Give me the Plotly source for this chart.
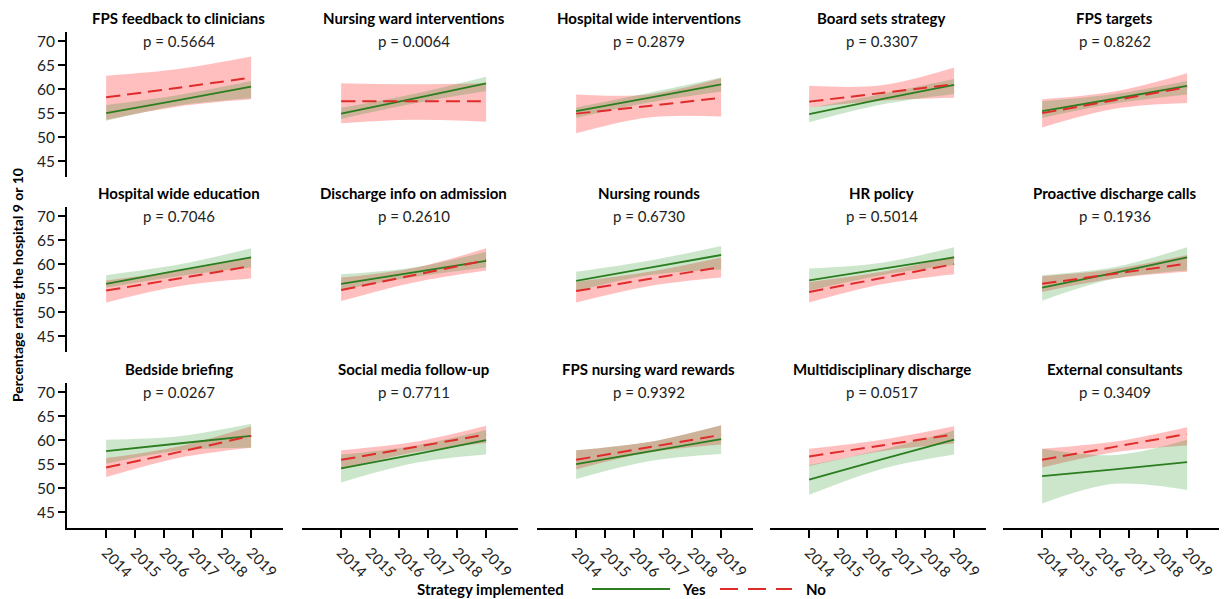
import plotly.graph_objects as go

# ---- data -------------------------------------------------------------
panel_titles = [
    "FPS feedback to clinicians", "Nursing ward interventions", "Hospital wide interventions",
    "Board sets strategy", "FPS targets",
    "Hospital wide education", "Discharge info on admission", "Nursing rounds",
    "HR policy", "Proactive discharge calls",
    "Bedside briefing", "Social media follow-up", "FPS nursing ward rewards",
    "Multidisciplinary discharge", "External consultants",
]
p_values = ["0.5664", "0.0064", "0.2879", "0.3307", "0.8262",
            "0.7046", "0.2610", "0.6730", "0.5014", "0.1936",
            "0.0267", "0.7711", "0.9392", "0.0517", "0.3409"]

# fitted values at the start, middle and end of the period
fit_x = [2014, 2016.5, 2019]

yes_fit = [[55.0, 57.7, 60.5], [54.9, 58.0, 61.2], [55.4, 58.2, 61.0], [54.8, 57.9, 60.9], [55.4, 58.0, 60.7],
           [55.9, 58.7, 61.4], [55.9, 58.3, 60.7], [56.5, 59.2, 61.9], [56.6, 59.0, 61.4], [55.1, 58.2, 61.4],
           [57.7, 59.3, 60.9], [54.1, 57.0, 60.0], [55.0, 57.6, 60.2], [51.8, 56.0, 60.1], [52.5, 53.9, 55.4]]
yes_lo = [[53.4, 56.6, 58.1], [53.8, 57.0, 59.6], [54.0, 57.2, 59.5], [53.1, 56.8, 59.0], [54.0, 57.0, 58.9],
          [55.1, 57.5, 59.3], [54.6, 57.3, 59.3], [54.4, 57.7, 58.9], [54.5, 57.7, 59.8], [52.4, 57.0, 58.7],
          [55.1, 57.8, 58.4], [51.2, 55.2, 57.0], [51.9, 55.6, 57.1], [48.6, 54.0, 57.0], [46.8, 50.9, 49.6]]
yes_hi = [[56.7, 58.8, 61.7], [56.1, 59.0, 62.6], [56.2, 59.2, 62.4], [56.1, 59.0, 62.1], [57.5, 59.0, 61.7],
          [57.7, 59.9, 63.3], [57.9, 59.3, 62.6], [58.4, 60.7, 63.8], [59.1, 60.3, 63.5], [57.7, 59.4, 63.5],
          [60.1, 60.8, 63.4], [57.0, 58.8, 62.1], [57.9, 59.6, 63.1], [54.8, 58.0, 62.0], [58.2, 56.9, 60.1]]

no_fit = [[58.3, 60.3, 62.4], [57.5, 57.5, 57.5], [54.9, 56.5, 58.2], [57.4, 59.2, 61.0], [55.0, 57.7, 60.4],
          [54.5, 57.0, 59.6], [54.6, 57.7, 60.8], [54.4, 56.9, 59.4], [54.2, 57.1, 60.0], [55.9, 58.0, 60.1],
          [54.3, 57.5, 60.9], [55.9, 58.5, 61.2], [55.9, 58.5, 61.1], [56.6, 58.9, 61.2], [55.9, 58.6, 61.3]]
no_lo = [[53.6, 56.4, 57.9], [52.9, 53.6, 53.2], [50.8, 54.1, 54.3], [56.2, 57.6, 58.2], [52.0, 55.9, 57.1],
         [52.0, 55.4, 57.0], [52.3, 56.2, 58.7], [52.0, 55.4, 57.2], [52.0, 55.8, 57.9], [54.2, 57.0, 58.4],
         [52.3, 56.3, 58.4], [53.9, 57.4, 59.4], [53.9, 57.4, 59.1], [54.6, 57.7, 59.3], [54.3, 57.5, 58.9]]
no_hi = [[62.8, 64.2, 66.8], [61.2, 61.0, 61.2], [58.9, 58.9, 62.3], [60.7, 60.8, 64.5], [57.9, 59.5, 63.3],
         [56.6, 58.6, 61.4], [57.2, 59.2, 63.3], [56.3, 58.4, 61.4], [56.3, 58.4, 61.7], [57.5, 59.0, 61.9],
         [56.3, 58.7, 62.9], [57.9, 59.6, 63.0], [57.9, 59.6, 63.1], [58.2, 60.1, 62.9], [58.2, 59.7, 62.7]]

tick_years = [2014, 2015, 2016, 2017, 2018, 2019]
y_ticks = [45, 50, 55, 60, 65, 70]

# ---- styling ------------------------------------------------------------
W, H = 1228, 599
FONT = "Lato"
GREEN = "#2b7d1f"
RED = "#e02b2b"
GREEN_BAND = "rgba(0,128,0,0.20)"
RED_BAND = "rgba(255,0,0,0.25)"

col_left = [67, 302, 537, 770, 1003]
panel_w = 216
row_top = [32, 207, 383]
panel_h = 145
x_range = [2012.65, 2020.1]
y_range = [41.7, 71.9]

fig = go.Figure()
layout = {}

title_y = 1 + 14 / panel_h                                   # title line above the panel
pval_y = (70 - y_range[0]) / (y_range[1] - y_range[0])     # p-value level with the 70 tick

for i, title in enumerate(panel_titles):
    r, c = divmod(i, 5)
    n = i + 1
    xa = "x" if n == 1 else f"x{n}"
    ya = "y" if n == 1 else f"y{n}"
    xkey = "xaxis" if n == 1 else f"xaxis{n}"
    ykey = "yaxis" if n == 1 else f"yaxis{n}"

    x0 = col_left[c] / W
    x1 = (col_left[c] + panel_w) / W
    y1 = 1 - row_top[r] / H
    y0 = 1 - (row_top[r] + panel_h) / H

    bottom = r == 2
    left = c == 0
    layout[xkey] = dict(
        domain=[x0, x1], anchor=ya, range=x_range,
        showgrid=False, zeroline=False,
        showline=bottom, linecolor="black", linewidth=2,
        ticks="outside" if bottom else "", ticklen=8, tickwidth=1.5, tickcolor="black",
        tickvals=tick_years, ticktext=[str(t) for t in tick_years],
        showticklabels=bottom, tickangle=45,
        tickfont=dict(family=FONT, size=15, color="#222"),
    )
    layout[ykey] = dict(
        domain=[y0, y1], anchor=xa, range=y_range,
        showgrid=False, zeroline=False,
        showline=left, linecolor="black", linewidth=2,
        ticks="outside" if left else "", ticklen=7, tickwidth=1.5, tickcolor="black",
        tickvals=y_ticks, showticklabels=left,
        tickfont=dict(family=FONT, size=15.5, color="#222"),
    )

    # confidence bands: "No" underneath, "Yes" on top
    for lo, hi, col in ((no_lo[i], no_hi[i], RED_BAND), (yes_lo[i], yes_hi[i], GREEN_BAND)):
        fig.add_trace(go.Scatter(x=fit_x, y=lo, xaxis=xa, yaxis=ya, mode="lines",
                                 line=dict(width=0, shape="spline"), showlegend=False,
                                 hoverinfo="skip"))
        fig.add_trace(go.Scatter(x=fit_x, y=hi, xaxis=xa, yaxis=ya, mode="lines",
                                 line=dict(width=0, shape="spline"), fill="tonexty",
                                 fillcolor=col, showlegend=False, hoverinfo="skip"))
    fig.add_trace(go.Scatter(x=fit_x, y=yes_fit[i], xaxis=xa, yaxis=ya, mode="lines",
                             line=dict(color=GREEN, width=1.8, shape="spline"),
                             name="Yes", showlegend=False))
    fig.add_trace(go.Scatter(x=fit_x, y=no_fit[i], xaxis=xa, yaxis=ya, mode="lines",
                             line=dict(color=RED, width=2, dash="14px,7px", shape="spline"),
                             name="No", showlegend=False))

    mid = 2016.5
    fig.add_annotation(x=mid, y=title_y, xref=xa, yref=f"{ya} domain", yanchor="middle",
                       text=f"<b>{title}</b>", showarrow=False,
                       font=dict(family=FONT, size=15, color="black"))
    fig.add_annotation(x=mid, y=pval_y, xref=xa, yref=f"{ya} domain", yanchor="middle",
                       text=f"p = {p_values[i]}", showarrow=False,
                       font=dict(family=FONT, size=15, color="#222"))

# shared y-axis title
fig.add_annotation(x=17 / W, y=1 - 285 / H, xref="paper", yref="paper",
                   xanchor="center", yanchor="middle",
                   text="<b>Percentage rating the hospital 9 or 10</b>", textangle=-90,
                   showarrow=False, font=dict(family=FONT, size=14, color="black"))

# key at the bottom
ky = 1 - 589 / H
key_font = dict(family=FONT, size=15, color="black")
fig.add_annotation(x=566 / W, y=ky, xref="paper", yref="paper", xanchor="right", yanchor="middle",
                   text="<b>Strategy implemented</b>", showarrow=False, font=key_font)
fig.add_shape(type="line", xref="paper", yref="paper", x0=592 / W, x1=670 / W, y0=ky, y1=ky,
              line=dict(color=GREEN, width=2))
fig.add_annotation(x=680 / W, y=ky, xref="paper", yref="paper", xanchor="left", yanchor="middle",
                   text="<b>Yes</b>", showarrow=False, font=key_font)
fig.add_shape(type="line", xref="paper", yref="paper", x0=720 / W, x1=792 / W, y0=ky, y1=ky,
              line=dict(color=RED, width=2, dash="18px,10px"))
fig.add_annotation(x=804 / W, y=ky, xref="paper", yref="paper", xanchor="left", yanchor="middle",
                   text="<b>No</b>", showarrow=False, font=key_font)

fig.update_layout(
    width=W, height=H, margin=dict(l=0, r=0, t=0, b=0),
    paper_bgcolor="white", plot_bgcolor="white",
    showlegend=False, **layout,
)

fig.write_html("out.html")
